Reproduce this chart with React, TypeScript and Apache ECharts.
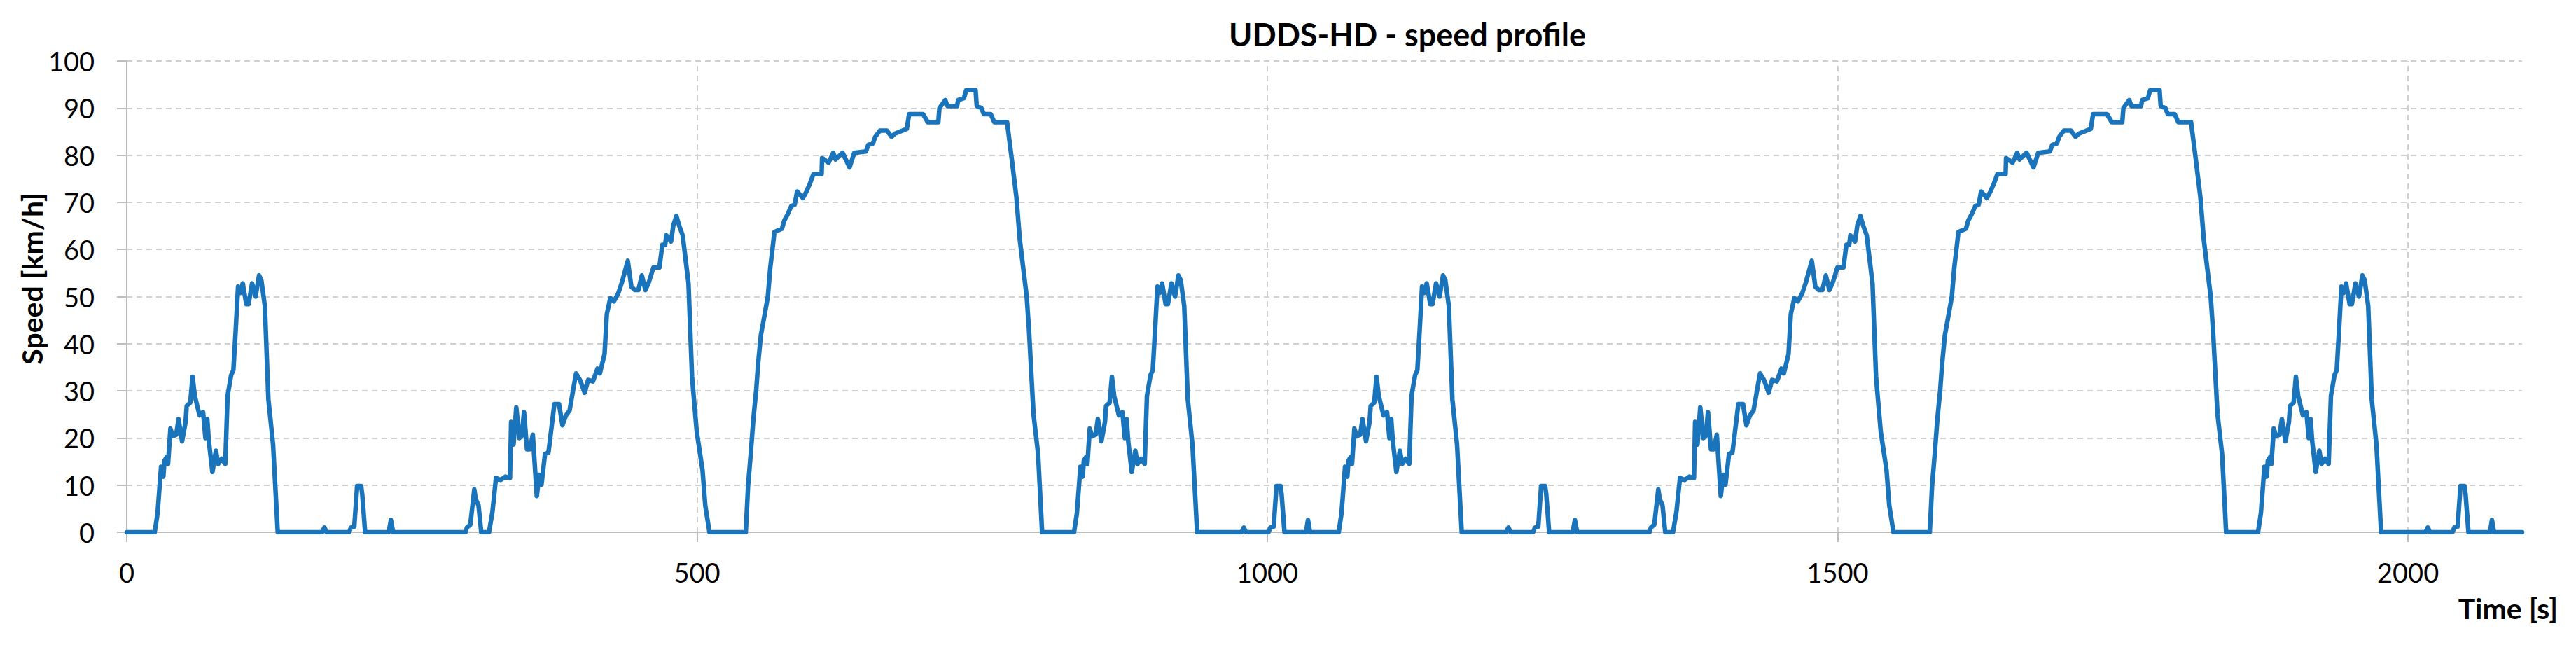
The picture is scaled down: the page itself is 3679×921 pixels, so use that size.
import React, { useEffect, useRef } from "react";
import * as echarts from "echarts";

// ---- data (time [s], speed [km/h]) ----
const idleStart: number[][] = [[0, 0], [24.5, 0]];
const hill1: number[][] = [
  [27, 4], [30.1, 13.9], [32.1, 11.8], [33.1, 15.2], [35.2, 16], [36.2, 14.5], [38.3, 22], [40.3, 20.4],
  [43.4, 20.7], [45.4, 24], [48.5, 19.3], [51.6, 23.4], [52.6, 26.8], [55.7, 27.5], [57.7, 33], [59.7, 28.9],
  [63.8, 24.8], [66.9, 25.5], [69, 20], [70.6, 24], [72, 19.3], [75.1, 12.8], [78.2, 17.3], [80.2, 14.5],
  [83.3, 15.6], [86.4, 14.5], [88.4, 28.9], [91.5, 33.3], [93.5, 34.4], [95.6, 43.2], [97.6, 52.1], [99.6, 50.8],
  [101.7, 52.8], [104.8, 48.4], [106.8, 48.4], [109.9, 52.8], [113, 50], [116, 54.5], [118, 53.5], [121.1, 48],
  [124.2, 28.2], [128.3, 18.6], [132.4, 0],
];
const spikes1: number[][] = [
  [171.3, 0], [173.3, 1], [175.3, 0], [195, 0], [196.5, 1], [199.5, 1.2], [202, 9.8], [205.5, 9.8],
  [206.5, 8], [209, 0], [229.6, 0], [231.6, 2.6], [233.6, 0],
];
const hill67: number[][] = [
  [297.1, 0], [298.2, 1], [301.2, 1.6], [304.7, 9.1], [306, 7], [308.4, 5.7], [310.8, 0], [317.6, 0],
  [320.6, 4.3], [323.7, 11.5], [327.8, 11.1], [331.9, 11.8], [336, 11.5], [337, 23.4], [339.1, 18.6], [341.5, 26.5],
  [344.2, 20], [346.2, 20.4], [348.3, 25.5], [350.9, 17.6], [353.4, 17.6], [356, 20.7], [359.5, 7.7], [361.6, 12.2],
  [363.6, 10.1], [366.7, 16.6], [369.7, 16.9], [374.9, 27.2], [379, 27.2], [382, 22.7], [385.1, 24.8], [388.2, 25.8],
  [393.9, 33.7], [397.4, 32.3], [401.5, 29.6], [404.5, 32.3], [408.7, 32], [412.7, 34.7], [414.8, 33.7], [418.9, 37.8],
  [420.9, 46.3], [424, 49.7], [427.1, 49], [431.1, 50.8], [434.2, 53.1], [439.3, 57.6], [442.4, 52.1], [445.5, 51.4],
  [448.6, 51.4], [451.6, 54.5], [454.7, 51.4], [457.8, 53.1], [461.8, 56.2], [467, 56.2], [469.6, 61], [472.1, 61],
  [473.1, 63], [477.2, 61.7], [479.2, 65.1], [481.9, 67.1], [484.3, 65.1], [487.4, 63], [492.5, 52.8], [495.6, 33],
  [499.7, 21.4], [504.8, 13.2], [507.2, 5.7], [510.9, 0],
];
const freeway93: number[][] = [
  [542.7, 0], [544.7, 9.8], [546.8, 15.9], [549.4, 24.1], [551.9, 30.3], [553.5, 35.7], [556, 41.9], [559.1, 46],
  [562.1, 50.1], [564.2, 56.2], [566.2, 60.3], [567.8, 63.7], [574.4, 64.4], [576.4, 66.1], [579.5, 67.5], [582.6, 69.2],
  [585.6, 69.5], [587.7, 72.3], [592.8, 70.9], [595.9, 72.3], [599, 74], [602, 76], [609.2, 76], [609.6, 79.4],
  [615.3, 78.4], [619.4, 80.5], [621.4, 79.1], [624.5, 79.8], [627.6, 80.5], [633.7, 77.4], [637.8, 80.5], [648.1, 80.8],
  [650.1, 82.2], [654.2, 82.5], [656.2, 83.9], [660.3, 85.2], [666.5, 85.2], [670.5, 83.9], [673.6, 84.6], [683.9, 85.6],
  [685.9, 88.7], [698.2, 88.7], [702.3, 87], [711.5, 87], [712.5, 90], [717.6, 91.7], [719.6, 90.4], [727.9, 90.4],
  [728.9, 91.7], [734, 92.1], [736, 93.8], [744.2, 93.8], [745.2, 90.4], [749.3, 90], [751.4, 88.7], [757.5, 88.7],
  [760.6, 87], [771.8, 87], [776, 79], [780, 71], [783, 62], [789, 50], [791, 43], [795, 25], [799, 16.6], [802.5, 0],
];
const hill2: number[][] = [
  [830.5, 0], [833, 4], [836.1, 13.9], [838.1, 11.8], [839.1, 15.2], [841.2, 16], [842.2, 14.5], [844.3, 22],
  [846.3, 20.4], [849.4, 20.7], [851.4, 24], [854.5, 19.3], [857.6, 23.4], [858.6, 26.8], [861.7, 27.5], [863.7, 33],
  [865.7, 28.9], [869.8, 24.8], [872.9, 25.5], [875, 20], [876.6, 24], [878, 19.3], [881.1, 12.8], [884.2, 17.3],
  [886.2, 14.5], [889.3, 15.6], [892.4, 14.5], [894.4, 28.9], [897.5, 33.3], [899.5, 34.4], [901.6, 43.2], [903.6, 52.1],
  [905.6, 50.8], [907.7, 52.8], [910.8, 48.4], [912.8, 48.4], [915.9, 52.8], [919, 50], [922, 54.5], [924, 53.5],
  [927.1, 48], [930.2, 28.2], [934.3, 18.6], [938.4, 0],
];
const spikes2: number[][] = [
  [977.3, 0], [979.3, 1], [981.3, 0], [1001, 0], [1002.5, 1], [1005.5, 1.2], [1008, 9.8], [1011.5, 9.8],
  [1012.5, 8], [1015, 0], [1033.8, 0], [1035.6, 2.6], [1037.4, 0],
];
const cycleStarts = [0, 1038];
const endPoint: number[][] = [[2100, 0]];
const xLabelValues = [0, 500, 1000, 1500, 2000];

const cycle = [...idleStart, ...hill1, ...spikes1, ...hill67, ...freeway93, ...hill2, ...spikes2];
const seriesData: number[][] = [];
cycleStarts.forEach((s) => cycle.forEach(([t, v]) => seriesData.push([t + s, v])));
endPoint.forEach((p) => seriesData.push(p));

const FONT = "Lato, 'Open Sans', sans-serif";
const GRID = "#d0d0d0";
const AXIS = "#bdbdbd";

export default function App() {
  const ref = useRef<HTMLDivElement>(null);
  useEffect(() => {
    if (!ref.current) return;
    const chart = echarts.init(ref.current, undefined, { renderer: "svg" });
    chart.setOption({
      animation: false,
      backgroundColor: "#ffffff",
      grid: { left: 181, top: 87, right: 77, bottom: 161, containLabel: false },
      xAxis: {
        type: "value",
        min: 0,
        max: 2100,
        interval: 500,
        axisLine: { show: true, onZero: false, lineStyle: { color: AXIS, width: 2 } },
        axisTick: { show: true, length: 14, customValues: xLabelValues, lineStyle: { color: AXIS, width: 2 } },
        axisLabel: {
          customValues: xLabelValues,
          margin: 38,
          fontSize: 38,
          fontFamily: FONT,
          color: "#000",
          formatter: (v: number) => (v > 2000 ? "" : String(v)),
        },
        splitLine: { show: false },
      },
      yAxis: {
        type: "value",
        min: 0,
        max: 100,
        interval: 10,
        axisLine: { show: true, lineStyle: { color: AXIS, width: 2 } },
        axisTick: { show: true, length: 14, lineStyle: { color: AXIS, width: 2 } },
        axisLabel: { margin: 46, fontSize: 38, fontFamily: FONT, color: "#000" },
        splitLine: { show: true, lineStyle: { color: GRID, width: 2, type: [8, 6] } },
      },
      graphic: [
        {
          type: "text",
          x: 2010,
          y: 49,
          style: { text: "UDDS-HD - speed profile", fontSize: 45, fontWeight: "bold", fontFamily: FONT, fill: "#000", align: "center", verticalAlign: "middle" },
        },
        {
          type: "text",
          x: 45,
          y: 398,
          rotation: Math.PI / 2,
          style: { text: "Speed [km/h]", fontSize: 41, fontWeight: "bold", fontFamily: FONT, fill: "#000", align: "center", verticalAlign: "middle" },
        },
        {
          type: "text",
          x: 3653,
          y: 868,
          style: { text: "Time [s]", fontSize: 41, fontWeight: "bold", fontFamily: FONT, fill: "#000", align: "right", verticalAlign: "middle" },
        },
      ],
      series: [
        {
          type: "line",
          name: "Speed",
          data: seriesData,
          showSymbol: false,
          symbol: "none",
          z: 3,
          lineStyle: { color: "#1A74BC", width: 6.5, cap: "round", join: "round" },
          markLine: {
            silent: true,
            symbol: "none",
            z: 1,
            label: { show: false },
            lineStyle: { color: GRID, width: 2, type: [8, 6] },
            data: xLabelValues.filter((v) => v > 0).map((v) => ({ xAxis: v })),
          },
        },
      ],
    });
    return () => chart.dispose();
  }, []);
  return (
    <div
      ref={ref}
      style={{ position: "fixed", left: 0, top: 0, width: "3679px", height: "921px", background: "#fff" }}
    />
  );
}
